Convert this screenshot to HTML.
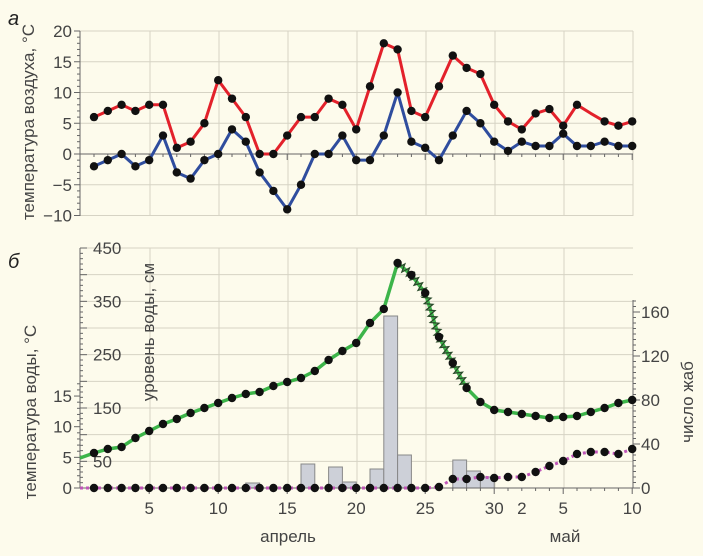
<!DOCTYPE html>
<html><head><meta charset="utf-8"><style>
html,body{margin:0;padding:0;background:#fdfbec;}
svg{display:block;font-family:"Liberation Sans",sans-serif;}
</style></head><body>
<svg id="s" width="703" height="556" xmlns="http://www.w3.org/2000/svg"></svg>
<script>
const s=document.getElementById('s');let h='';
const X=d=>94+(d-1)*13.8;
const gc='#d6d3c4';
h+='<rect width="703" height="556" fill="#fdfbec"/>';
const TY=v=>154-v*6.15;
[20,15,10,5,-5,-10].forEach(v=>h+=`<line x1="80" x2="633" y1="${TY(v)}" y2="${TY(v)}" stroke="${gc}"/>`);
[150,219,288,357,426,495,564,633].forEach(x=>h+=`<line x1="${x}" x2="${x}" y1="31" y2="216" stroke="${gc}"/>`);
h+=`<line x1="80" x2="80" y1="31" y2="216" stroke="#666"/>`;
for(let v=-10;v<=20;v++){let w=v%5==0?6:3;h+=`<line x1="${80-w}" x2="80" y1="${TY(v)}" y2="${TY(v)}" stroke="#666"/>`;}
h+=`<line x1="80" x2="633" y1="154" y2="154" stroke="#666"/>`;
for(let d=1;d<=40;d++)h+=`<line x1="${X(d)}" x2="${X(d)}" y1="154" y2="${d%5==0?160:157}" stroke="#666"/>`;
[20,15,10,5,0,-5,-10].forEach(v=>h+=`<text x="72" y="${TY(v)+6}" font-size="17" fill="#444" text-anchor="end">${v<0?'−'+(-v):v}</text>`);
const red=[6,7,8,7,8,8,1,2,5,12,9,6,0,0,3,6,6,9,8,4,11,18,17,7,6,11,16,14,13,8,5.3,4,6.6,7.3,4.6,8,6.6,5.3,4.6,5.3];
const blue=[-2,-1,0,-2,-1,3,-3,-4,-1,0,4,2,-3,-6,-9,-5,0,0,3,-1,-1,3,10,2,1,-1,3,7,5,2,0.5,2,1.3,1.3,3.3,1.3,1.3,2,1.3,1.3];
function line(arr,f,col,w,extra=''){return `<polyline fill="none" stroke="${col}" stroke-width="${w}" stroke-linejoin="round" ${extra} points="${arr.map((v,i)=>X(i+1)+','+f(v)).join(' ')}"/>`;}
function dots(arr,f,skip=[]){let o='';arr.forEach((v,i)=>{if(!skip.includes(i+1))o+=`<circle cx="${X(i+1)}" cy="${f(v)}" r="4.2" fill="#111"/>`;});return o;}
h+=line(red,TY,'#e3212b',3)+line(blue,TY,'#2f4d9e',3);
h+=dots(red,TY,[37])+dots(blue,TY);
h+=`<text x="8" y="25" font-size="20" font-style="italic" fill="#222">а</text>`;
h+=`<text transform="translate(34,122) rotate(-90)" font-size="17" fill="#444" text-anchor="middle">температура воздуха, °С</text>`;
const LY=v=>488-v*0.5333, WY=v=>488-v*6.13, NY=v=>488-v*1.1;
for(let i=1;i<=9;i++){let y=LY(i*50);h+=`<line x1="80" x2="633" y1="${y}" y2="${y}" stroke="${gc}"/>`;}
[150,219,288,357,426,495,564].forEach(x=>h+=`<line x1="${x}" x2="${x}" y1="248" y2="488" stroke="${gc}"/>`);
const bars=[[12,483],[16,464],[18,467],[19,482],[21,469],[22,316],[23,455],[27,460],[28,471],[29,477]];
bars.forEach(([d,t])=>h+=`<rect x="${X(d)}" y="${t}" width="13.8" height="${488-t}" fill="#cdd0d8" stroke="#888" stroke-width="1"/>`);
h+=`<line x1="80" x2="80" y1="248" y2="488" stroke="#666"/><line x1="633" x2="633" y1="300" y2="488" stroke="#666"/><line x1="80" x2="633" y1="488" y2="488" stroke="#666"/>`;
for(let v=0;v<=450;v+=10){let y=LY(v);let w=v%50==0?7:3;h+=`<line x1="80" x2="${80+w}" y1="${y}" y2="${y}" stroke="#666"/>`;}
for(let v=0;v<=17;v++){let y=WY(v);let w=v%5==0?6:3;h+=`<line x1="${80-w}" x2="80" y1="${y}" y2="${y}" stroke="#666"/>`;}
for(let v=0;v<=170;v+=5){let y=NY(v);let w=v%40==0?7:3;h+=`<line x1="633" x2="${633+w}" y1="${y}" y2="${y}" stroke="#666"/>`;}
for(let d=1;d<=40;d++)h+=`<line x1="${X(d)}" x2="${X(d)}" y1="488" y2="${d%5==0?494:491}" stroke="#666"/>`;
[450,350,250,150,50].forEach(v=>h+=`<text x="93" y="${LY(v)+6}" font-size="17" fill="#444">${v}</text>`);
[15,10,5,0].forEach(v=>h+=`<text x="72" y="${WY(v)+6}" font-size="17" fill="#444" text-anchor="end">${v}</text>`);
[160,120,80,40,0].forEach(v=>h+=`<text x="641" y="${NY(v)+6}" font-size="17" fill="#444">${v}</text>`);
[[5,'5'],[10,'10'],[15,'15'],[20,'20'],[25,'25'],[30,'30'],[32,'2'],[35,'5'],[40,'10']].forEach(([d,t])=>h+=`<text x="${X(d)}" y="514" font-size="17" fill="#444" text-anchor="middle">${t}</text>`);
h+=`<text x="288" y="542" font-size="17" fill="#444" text-anchor="middle">апрель</text><text x="565" y="542" font-size="17" fill="#444" text-anchor="middle">май</text>`;
h+=`<text x="8" y="268" font-size="20" font-style="italic" fill="#222">б</text>`;
h+=`<text transform="translate(36,412) rotate(-90)" font-size="17" fill="#444" text-anchor="middle">температура воды, °С</text>`;
h+=`<text transform="translate(154,332) rotate(-90)" font-size="17" fill="#444" text-anchor="middle">уровень воды, см</text>`;
h+=`<text transform="translate(693,402) rotate(-90)" font-size="17" fill="#444" text-anchor="middle">число жаб</text>`;
const gy=[453,449,447,438,431,424,419,413,408,403,398,394,392,386,382,378,371,360,351,343,323,309,263,275,293,337,363,388,402,410,412,414,416,418,417,416,412,408,403,400];
const gf=v=>v;
h+=`<polyline fill="none" stroke="#3db54a" stroke-width="3.5" stroke-linejoin="round" points="80,458 ${gy.map((v,i)=>X(i+1)+','+v).join(' ')}"/>`;
let zz='';for(let i=23;i<28;i++){const x1=X(i),y1=gy[i-1],x2=X(i+1),y2=gy[i];const L=Math.hypot(x2-x1,y2-y1),n=Math.round(L/3.2);const nx=-(y2-y1)/L,ny=(x2-x1)/L;for(let k=0;k<=n;k++){const t=k/n,px=x1+(x2-x1)*t,py=y1+(y2-y1)*t,sg=k%2?4:-4;zz+=`${px+nx*sg},${py+ny*sg} `;}}
h+=`<polyline fill="none" stroke="#2a4a2a" stroke-width="1.3" points="${zz}"/>`;
h+=dots(gy,gf);
const my=[488,488,488,488,488,488,488,488,488,488,488,488,488,488,488,488,488,488,488,488,488,488,488,488,488,487,479,479,477,478,477,477,472,466,461,454,452,452,454,449];
h+=`<polyline fill="none" stroke="#c056b8" stroke-width="3" stroke-dasharray="3,3" points="80,488 ${my.map((v,i)=>X(i+1)+','+v).join(' ')}"/>`;
h+=dots(my,gf);
s.innerHTML=h;
</script>
</body></html>
